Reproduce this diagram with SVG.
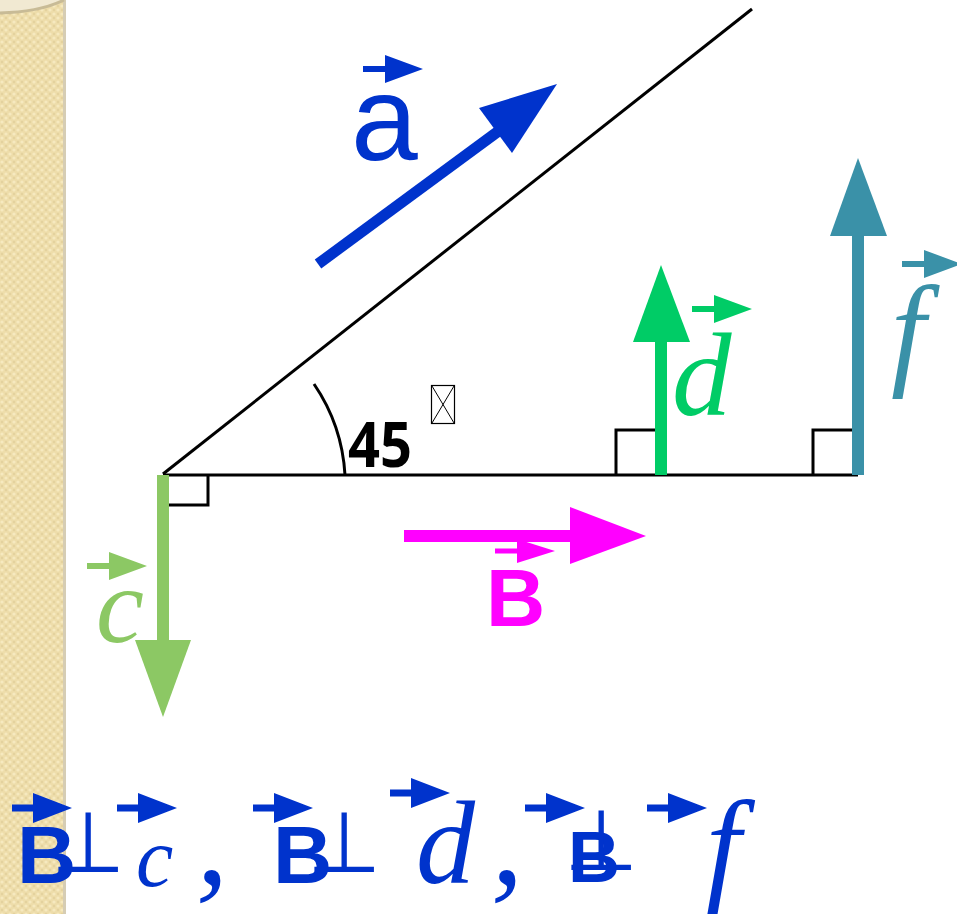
<svg xmlns="http://www.w3.org/2000/svg" width="957" height="914" viewBox="0 0 957 914">
<defs>
<pattern id="weave" width="8" height="8" patternUnits="userSpaceOnUse">
<rect width="8" height="8" fill="#EEDDAA"/>
<circle cx="2" cy="2" r="1.6" fill="#F6E9BF"/>
<circle cx="6" cy="6" r="1.6" fill="#F6E9BF"/>
<circle cx="6" cy="2" r="1.2" fill="#E4D29E"/>
<circle cx="2" cy="6" r="1.2" fill="#E4D29E"/>
</pattern>
<path id="acc" d="M0,0 L-38,-14 L-38,-3 L-60,-3 L-60,3 L-38,3 L-38,14 Z"/>
<path id="acc2" d="M0,0 L-39,-15 L-39,-3.5 L-60,-3.5 L-60,3.5 L-39,3.5 L-39,15 Z"/>
</defs>
<style>
.ln{fill:none;stroke:#000;stroke-width:3}
.sans{font-family:"Liberation Sans",Arial,sans-serif}
.bold{font-weight:700}
.it{font-family:"Liberation Serif","Times New Roman",serif;font-style:italic}
.blue{fill:#0033CC}
.mag{fill:#FF00FF}
.grn{fill:#00CC66}
.teal{fill:#3A91A8}
.lgrn{fill:#8CC864}
.tack{font-family:"DejaVu Sans",sans-serif}
</style>
<rect width="957" height="914" fill="#FFFFFF"/>
<g id="scroll">
<rect x="0" y="0" width="64" height="914" fill="url(#weave)"/>
<rect x="63" y="0" width="3" height="914" fill="#D6CDB4"/>
<path d="M0,0 H64 Q40,12 0,13 Z" fill="#F1E9D2"/>
<path d="M64,0 Q40,12 0,13" fill="none" stroke="#C8BB96" stroke-width="3"/>
</g>
<g id="connectors">
<path class="ln" d="M163,474 L752,9"/>
<path class="ln" d="M163,475 H858"/>
<path class="ln" d="M163,505 H208 V475"/>
<path class="ln" d="M616,475 V430 H661"/>
<path class="ln" d="M813,475 V430 H858"/>
</g>
<g id="angle">
<path class="ln" d="M314,384 A180,180 0 0 1 345,475"/>
<text x="348" y="467" font-family="'Open Sans',sans-serif" font-weight="700" font-size="62" fill="#000" textLength="64" lengthAdjust="spacingAndGlyphs">45</text>
<rect x="431.5" y="385.5" width="23" height="38" fill="none" stroke="#000" stroke-width="1.2"/>
<path d="M432,386 L454,423 M454,386 L432,423" stroke="#000" stroke-width="1" fill="none"/>
</g>
<g id="vec-a">
<path d="M318,264 L500,130" stroke="#0033CC" stroke-width="11" fill="none"/>
<polygon points="557,84 479,108 512,153" class="blue"/>
<use href="#acc" x="423" y="69" class="blue"/>
<text x="351" y="160" class="sans blue" font-size="120">a</text>
</g>
<g id="vec-B">
<rect x="404" y="530" width="170" height="12" class="mag"/>
<polygon points="570,507 570,564 646,536" class="mag"/>
<path d="M555,551 L517,539 L517,548.5 L495,548.5 L495,553.5 L517,553.5 L517,563 Z" class="mag"/>
<text x="486" y="626" class="sans bold mag" font-size="82">B</text>
</g>
<g id="vec-c">
<rect x="157" y="475" width="12" height="170" class="lgrn"/>
<polygon points="135,640 191,640 163,717" class="lgrn"/>
<use href="#acc" x="147" y="566" class="lgrn"/>
<text x="96" y="642" class="it lgrn" font-size="108">c</text>
</g>
<g id="vec-d">
<rect x="655" y="338" width="12" height="137" class="grn"/>
<polygon points="633,342 690,342 661,265" class="grn"/>
<use href="#acc" x="752" y="309" class="grn"/>
<text x="672" y="415" class="it grn" font-size="119">d</text>
</g>
<g id="vec-f">
<rect x="852" y="232" width="12" height="243" class="teal"/>
<polygon points="830,236 887,236 858,158" class="teal"/>
<use href="#acc" x="962" y="264" class="teal"/>
<text x="891" y="372" class="it teal" font-size="124">f</text>
</g>
<g id="formula">
<text x="17" y="883" class="sans bold blue" font-size="82">B</text>
<use href="#acc2" x="72" y="808" class="blue"/>
<text x="88" y="872" class="tack blue" font-size="85" text-anchor="middle">⊥</text>
<use href="#acc2" x="177" y="808" class="blue"/>
<text x="136" y="886" class="it blue" font-size="84">c</text>
<text x="196" y="883" class="it blue" font-size="130">,</text>
<text x="273" y="883" class="sans bold blue" font-size="82">B</text>
<use href="#acc2" x="313" y="808" class="blue"/>
<text x="344" y="872" class="tack blue" font-size="85" text-anchor="middle">⊥</text>
<use href="#acc2" x="450" y="793" class="blue"/>
<text x="416" y="883" class="it blue" font-size="118">d</text>
<text x="491" y="883" class="it blue" font-size="130">,</text>
<use href="#acc2" x="585" y="808" class="blue"/>
<text x="568" y="882" class="sans bold blue" font-size="72">B</text>
<text x="601" y="870" class="tack blue" font-size="85" text-anchor="middle">⊥</text>
<use href="#acc2" x="707" y="808" class="blue"/>
<text x="706" y="887" class="it blue" font-size="125">f</text>
</g>
</svg>
